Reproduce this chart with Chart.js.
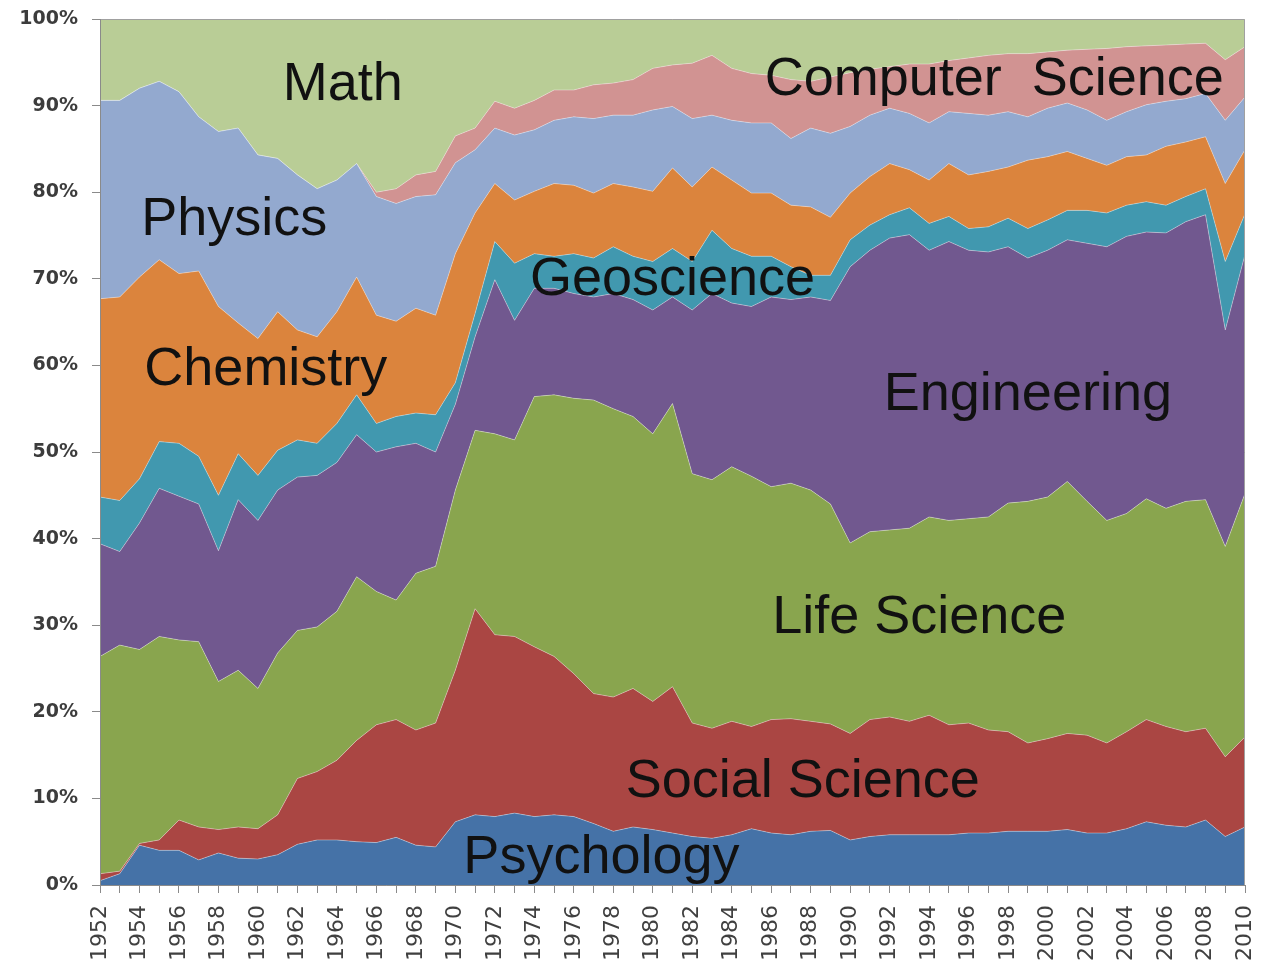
<!DOCTYPE html>
<html><head><meta charset="utf-8">
<script src="https://cdn.jsdelivr.net/npm/chart.js@4.4.1/dist/chart.umd.min.js"></script>
<style>html,body{margin:0;padding:0;background:#fff;overflow:hidden}#wrap{width:1264px;height:967px;position:relative}</style>
</head><body><div id="wrap"><canvas id="c"></canvas></div>
<script>
const years = ['1952','1953','1954','1955','1956','1957','1958','1959','1960','1961',
 '1962','1963','1964','1965','1966','1967','1968','1969','1970','1971',
 '1972','1973','1974','1975','1976','1977','1978','1979','1980','1981',
 '1982','1983','1984','1985','1986','1987','1988','1989','1990','1991',
 '1992','1993','1994','1995','1996','1997','1998','1999','2000','2001',
 '2002','2003','2004','2005','2006','2007','2008','2009','2010'];

const psychology = [0.5,1.3,4.6,4.0,4.0,2.9,3.7,3.1,3.0,3.5, 4.7,5.2,5.2,5.0,4.9,5.5,4.6,4.4,7.3,8.1, 7.9,8.3,7.9,8.1,7.9,7.1,6.2,6.7,6.4,6.0, 5.6,5.4,5.8,6.5,6.0,5.8,6.2,6.3,5.2,5.6, 5.8,5.8,5.8,5.8,6.0,6.0,6.2,6.2,6.2,6.4, 6.0,6.0,6.5,7.3,6.9,6.7,7.5,5.6,6.7];
const socialScience = [0.8,0.3,0.2,1.2,3.5,3.8,2.7,3.6,3.5,4.6, 7.6,7.9,9.2,11.7,13.6,13.6,13.3,14.3,17.5,23.8, 21.0,20.4,19.6,18.3,16.5,15.0,15.5,16.0,14.8,16.9, 13.1,12.7,13.1,11.8,13.1,13.4,12.7,12.3,12.3,13.5, 13.6,13.1,13.8,12.7,12.7,11.9,11.5,10.2,10.7,11.1, 11.3,10.4,11.2,11.8,11.4,11.0,10.6,9.2,10.4];
const lifeScience = [25.1,26.1,22.4,23.5,20.8,21.4,17.1,18.1,16.2,18.7, 17.1,16.7,17.2,18.9,15.4,13.8,18.1,18.1,20.8,20.6, 23.2,22.7,28.9,30.2,31.8,33.9,33.3,31.4,30.9,32.7, 28.8,28.7,29.4,28.9,26.9,27.2,26.7,25.4,22.0,21.7, 21.6,22.3,22.9,23.6,23.6,24.6,26.4,27.9,27.9,29.1, 27.0,25.7,25.2,25.5,25.2,26.6,26.4,24.3,28.1];
const engineering = [13.0,10.8,14.6,17.1,16.6,15.9,15.1,19.7,19.4,18.8, 17.7,17.5,17.2,16.4,16.1,17.7,15.0,13.2,9.9,10.8, 17.8,13.8,12.5,12.3,12.1,11.9,13.3,13.5,14.3,12.3, 18.9,21.5,18.9,19.6,21.9,21.2,22.3,23.5,31.9,32.5, 33.7,33.9,30.8,32.2,31.0,30.6,29.6,28.1,28.5,27.9, 29.8,31.6,32.0,30.8,31.8,32.3,32.9,25.0,27.6];
const geoscience = [5.4,5.9,5.1,5.4,6.1,5.5,6.4,5.3,5.2,4.6, 4.3,3.7,4.5,4.6,3.3,3.5,3.5,4.3,2.5,2.7, 4.4,6.6,4.0,3.7,4.6,4.5,5.4,5.0,5.6,5.6, 5.6,7.3,6.3,5.8,4.7,3.8,2.5,2.9,3.1,2.9, 2.7,3.1,3.1,2.9,2.5,2.9,3.3,3.4,3.5,3.4, 3.8,3.9,3.6,3.5,3.2,2.9,3.0,7.9,4.7];
const chemistry = [22.9,23.5,23.3,21.0,19.6,21.4,21.8,15.1,15.8,16.0, 12.7,12.3,12.9,13.6,12.5,11.0,12.1,11.5,14.9,11.6, 6.7,7.3,7.2,8.4,7.9,7.5,7.3,8.0,8.1,9.3, 8.6,7.3,7.9,7.3,7.3,7.1,7.9,6.7,5.4,5.6, 5.9,4.4,5.0,6.1,6.2,6.4,5.9,7.9,7.3,6.8, 6.0,5.5,5.6,5.4,6.8,6.3,6.0,9.0,7.4];
const physics = [22.9,22.7,21.8,20.6,21.0,17.8,20.2,22.5,21.2,17.7, 17.9,17.1,15.2,13.1,13.7,13.6,12.9,13.9,10.5,7.3, 6.4,7.5,7.1,7.3,7.9,8.6,7.9,8.3,9.4,7.1, 7.9,6.0,6.9,8.1,8.1,7.7,9.1,9.7,7.7,7.1, 6.4,6.5,6.6,6.0,7.1,6.5,6.4,5.0,5.6,5.6, 5.6,5.2,5.2,5.8,5.2,5.0,5.0,7.3,6.1];
const computerScience = [0,0,0,0,0,0,0,0,0,0, 0,0,0,0,0.5,1.7,2.5,2.7,3.1,2.5, 3.1,3.1,3.4,3.5,3.1,3.9,3.7,4.1,4.8,4.8, 6.4,6.9,6.0,5.7,5.5,6.8,5.4,6.5,6.2,5.3, 4.8,5.7,6.8,5.9,6.4,6.9,6.7,7.3,6.5,6.1, 7.0,8.3,7.5,6.8,6.5,6.3,5.8,7.0,5.8];
const math = [9.4,9.4,8.0,7.2,8.4,11.3,13.0,12.6,15.7,16.1, 18.0,19.6,18.6,16.7,20.0,19.6,18.0,17.6,13.5,12.6, 9.5,10.3,9.4,8.2,8.2,7.6,7.4,7.0,5.7,5.3, 5.1,4.2,5.7,6.3,6.5,7.0,7.2,6.7,6.2,5.8, 5.5,5.2,5.2,4.8,4.5,4.2,4.0,4.0,3.8,3.6, 3.5,3.4,3.2,3.1,3.0,2.9,2.8,4.7,3.2];

const seriesNames = ['Psychology','Social Science','Life Science','Engineering','Geoscience','Chemistry','Physics','Computer Science','Math'];
const seriesData = [psychology, socialScience, lifeScience, engineering, geoscience, chemistry, physics, computerScience, math];
const seriesColors = ['#4572A7','#AA4643','#89A54E','#71588F','#4198AF','#DB843D','#93A9CF','#D19392','#B9CD96'];

// in-chart text labels: [text, year position, percent baseline]
const areaLabels = [
  ['Math', 1964.3, 90.6],
  ['Physics', 1958.8, 75.1],
  ['Chemistry', 1960.4, 57.7],
  ['Geoscience', 1981.0, 68.1],
  ['Computer  Science', 1997.3, 91.2],
  ['Engineering', 1999.0, 54.9],
  ['Life Science', 1993.5, 29.1],
  ['Social Science', 1987.6, 10.2],
  ['Psychology', 1977.4, 1.4]
];

const datasets = seriesNames.map((name, i) => ({
  label: name,
  data: seriesData[i],
  backgroundColor: seriesColors[i],
  borderColor: 'rgba(255,255,255,0.35)',
  borderWidth: 1,
  fill: i === 0 ? 'origin' : '-1',
  pointRadius: 0,
  tension: 0
}));

const overlay = {
  id: 'overlay',
  afterDatasetsDraw(chart) {
    const { ctx, chartArea: a, scales: { x, y } } = chart;
    ctx.save();
    ctx.strokeStyle = '#a0a0a0';
    ctx.lineWidth = 1;
    ctx.beginPath();
    ctx.moveTo(a.left, a.top + 0.5); ctx.lineTo(a.right - 0.5, a.top + 0.5); ctx.lineTo(a.right - 0.5, a.bottom);
    ctx.stroke();
    ctx.strokeStyle = '#8a8a8a';
    ctx.beginPath();
    ctx.moveTo(a.left + 0.5, a.top); ctx.lineTo(a.left + 0.5, a.bottom + 0.5); ctx.lineTo(a.right, a.bottom + 0.5);
    ctx.stroke();
    ctx.font = '54px "Liberation Sans", Arial, sans-serif';
    ctx.fillStyle = '#111111';
    ctx.textAlign = 'center';
    ctx.textBaseline = 'alphabetic';
    for (const [t, yr, pct] of areaLabels) {
      ctx.fillText(t, x.getPixelForValue(yr - 1952), y.getPixelForValue(pct));
    }
    ctx.restore();
  }
};

new Chart(document.getElementById('c'), {
  type: 'line',
  data: { labels: years, datasets },
  options: {
    responsive: true,
    maintainAspectRatio: false,
    animation: false,
    layout: { padding: { left: 0, right: 19, top: 19, bottom: 0 } },
    plugins: { legend: { display: false }, tooltip: { enabled: false } },
    elements: { point: { radius: 0 }, line: { tension: 0 } },
    scales: {
      x: {
        offset: false,
        grid: { display: true, drawOnChartArea: false, drawTicks: true, tickLength: 8, color: '#8a8a8a' },
        border: { display: true, color: '#8a8a8a' },
        ticks: {
          autoSkip: false, maxRotation: 90, minRotation: 90, padding: 12,
          color: '#404040', font: { family: 'DejaVu Sans', size: 22 },
          callback: (v, i) => (i % 2 === 0 ? years[i] : '')
        },
        afterFit: (s) => { s.height = 82; s.paddingLeft = 0; s.paddingRight = 0; }
      },
      y: {
        stacked: true, min: 0, max: 100,
        ticks: { stepSize: 10, callback: (v) => v + '%', padding: 14, color: '#3c3c3c', font: { family: 'DejaVu Sans', size: 19, weight: 'bold' } },
        grid: { drawOnChartArea: false, tickLength: 8, color: '#8a8a8a' },
        border: { color: '#8a8a8a' },
        afterFit: (s) => { s.width = 100; s.paddingTop = 0; s.paddingBottom = 0; }
      }
    }
  },
  plugins: [overlay]
});
</script>
</body></html>
